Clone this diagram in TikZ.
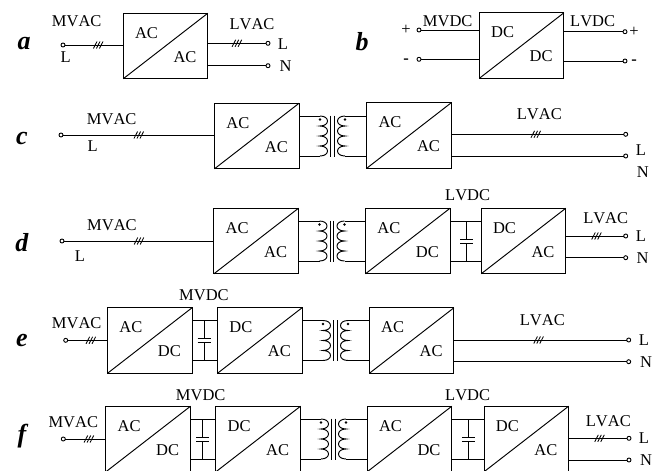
\documentclass[tikz,border=0pt]{standalone}
\usepackage{fontspec}
\setmainfont[Kerning=Off]{Liberation Serif}
\tikzset{
    wire/.style={line width=0.95pt},
    ticks/.pic={
        \foreach \k in {-3,0,3} \draw[line width=0.85pt] (\k-1.8,3.5) -- (\k+1.8,-3.5);
    },
    coil/.pic={
        \draw[wire] (0,-20) .. controls (10,-20) and (10,-10) .. (0,-10)
            .. controls (10,-10) and (10,0) .. (0,0)
            .. controls (10,0) and (10,10) .. (0,10)
            .. controls (10,10) and (10,20) .. (0,20);
    },
    xfmr/.pic={
        \pic at (-12.5,0) {coil};
        \pic[xscale=-1] at (12.5,0) {coil};
        \draw[wire] (-1.7,-20.5) -- (-1.7,20.5);
        \draw[wire] (1.7,-20.5) -- (1.7,20.5);
        \fill (-12.5,-16.5) circle (1.4);
        \fill (12.5,-16.5) circle (1.4);
        \coordinate (-lt) at (-12.5,-20);
        \coordinate (-lb) at (-12.5,20);
        \coordinate (-rt) at (12.5,-20);
        \coordinate (-rb) at (12.5,20);
    },
    dclink/.pic={
        \draw[wire] (0,-20) -- (0,-2);
        \draw[wire] (0,2) -- (0,20);
        \draw[wire] (-6.5,-2) -- (6.5,-2);
        \draw[wire] (-6.5,2) -- (6.5,2);
        \coordinate (-t) at (0,-20);
        \coordinate (-b) at (0,20);
    }
}
\begin{document}
\begin{tikzpicture}[
    x=1pt, y=-1pt,
    conv/.style={draw, line width=1pt, minimum width=84.5pt, minimum height=65.5pt, inner sep=0pt, outer sep=0pt},
    convtxt/.style={font=\fontsize{16.5}{18}\selectfont, inner sep=0pt},
    lbl/.style={font=\fontsize{16.5}{18}\selectfont, inner sep=0pt},
    rowlbl/.style={font=\fontsize{26}{27}\selectfont\bfseries\itshape, inner sep=0pt},
    term/.style={circle, draw, line width=0.9pt, fill=white, minimum size=4pt, inner sep=0pt, outer sep=0pt}
]
    \clip (0,0) rectangle (653,471);

    % converters
    \foreach \nm/\cx/\cy/\ta/\tb in {a/165.5/46/AC/AC, b/521.7/45.5/DC/DC,
        c1/256.8/136/AC/AC, c2/409/135.5/AC/AC,
        d1/256.2/241/AC/AC, d2/407.8/241/AC/DC, d3/523.5/241/DC/AC,
        e1/149.8/340.5/AC/DC, e2/259.8/340.5/DC/AC, e3/411.7/340.5/AC/AC,
        f1/148.2/439/AC/DC, f2/258.2/439/DC/AC, f3/409.5/439/AC/DC, f4/526.3/439/DC/AC} {
        \node[conv] (\nm) at (\cx,\cy) {};
        \draw[wire] (\nm.south west) -- (\nm.north east);
        \node[convtxt] (\nm ta) at (\cx-19,\cy-13) {\ta};
        \node[convtxt] (\nm tb) at (\cx+19.5,\cy+11) {\tb};
    }

    % terminals
    \foreach \nm/\cx/\cy in {ain/63/45, aol/268/43.3, aon/268/65.7,
        bip/419/30, bin/419/59.3, bop/625/31.7, bon/625/61,
        cin/61/135, col/625.7/134.3, con/625.7/156,
        din/62/241, dol/625.7/236, don/625.7/257.7,
        ein/65.7/340.3, eol/628.7/340, eon/628.7/361.7,
        fin/63.3/439, fol/629/438.3, fon/629/460} {
        \node[term] (\nm) at (\cx,\cy) {};
    }

    % wires on the input side
    \draw[wire] (ain) -- pic[pos=0.57] {ticks} (ain -| a.west);
    \draw[wire] (cin) -- pic[pos=0.5] {ticks} (cin -| c1.west);
    \draw[wire] (din) -- pic[pos=0.5] {ticks} (din -| d1.west);
    \draw[wire] (ein) -- pic[pos=0.58] {ticks} (ein -| e1.west);
    \draw[wire] (fin) -- pic[pos=0.58] {ticks} (fin -| f1.west);
    \draw[wire] (bip) -- (bip -| b.west);
    \draw[wire] (bin) -- (bin -| b.west);

    % wires on the output side
    \draw[wire] (a.east |- aol) -- pic[pos=0.5] {ticks} (aol);
    \draw[wire] (c2.east |- col) -- pic[pos=0.49] {ticks} (col);
    \draw[wire] (d3.east |- dol) -- pic[pos=0.53] {ticks} (dol);
    \draw[wire] (e3.east |- eol) -- pic[pos=0.49] {ticks} (eol);
    \draw[wire] (f4.east |- fol) -- pic[pos=0.53] {ticks} (fol);
    \foreach \p/\q in {a/aon, b/bop, b/bon, c2/con, d3/don, e3/eon, f4/fon} {
        \draw[wire] (\p.east |- \q) -- (\q);
    }

    % transformers
    \pic (cx) at (332.5,136) {xfmr};
    \pic (dx) at (332,241) {xfmr};
    \pic (ex) at (335.5,340.5) {xfmr};
    \pic (fx) at (333.5,439) {xfmr};
    \foreach \p/\q/\s in {c1/c2/cx, d1/d2/dx, e2/e3/ex, f2/f3/fx} {
        \draw[wire] (\p.east |- \s-lt) -- (\s-lt);
        \draw[wire] (\p.east |- \s-lb) -- (\s-lb);
        \draw[wire] (\s-rt) -- (\q.west |- \s-rt);
        \draw[wire] (\s-rb) -- (\q.west |- \s-rb);
    }

    % dc links
    \pic (dc) at (466.7,241.5) {dclink};
    \pic (ec) at (204,340.5) {dclink};
    \pic (fc1) at (202.7,439) {dclink};
    \pic (fc2) at (468.3,439) {dclink};
    \foreach \p/\q/\s in {d2/d3/dc, e1/e2/ec, f1/f2/fc1, f3/f4/fc2} {
        \draw[wire] (\p.east |- \s-t) -- (\q.west |- \s-t);
        \draw[wire] (\p.east |- \s-b) -- (\q.west |- \s-b);
    }

    % labels
    \foreach \nm/\cx/\cy/\txt in {amv/76.7/21/MVAC, al/65.7/57/L, alv/252/24/LVAC, aol/283/44/L, aon/285.7/65.7/N,
        bmv/447.7/20.7/MVDC, blv/592.7/21/LVDC, bp/406/30/+, bop/634/32/+,
        cmv/111.7/119/MVAC, cl/92.7/146/L, clv/539.3/114.3/LVAC, col/641/150/L, con/642.7/171.7/N,
        dmv/112/225/MVAC, dl/80/256/L, ddc/467.7/195/LVDC, dlv/605.7/218.3/LVAC, dol/641/236/L, don/642.5/257.7/N,
        emv/76.7/323.3/MVAC, edc/204/295/MVDC, elv/542.3/320/LVAC, eol/644/340/L, eon/646/361.7/N,
        fmv/73.3/421.7/MVAC, fdc/200.7/395/MVDC, fld/467.7/395/LVDC, flv/608.3/421/LVAC, fol/644/438/L, fon/646/460/N} {
        \node[lbl] (\nm t) at (\cx,\cy) {\txt};
    }
    \node[lbl] (bnt) at (406,61) {\textbf{-}};
    \node[lbl] (bont) at (634,62) {\textbf{-}};

    % row letters
    \foreach \nm/\cx/\cy in {a/24/44, b/362/42, c/22/138, d/22/243, e/22/340, f/22/436} {
        \node[rowlbl] (row\nm) at (\cx,\cy) {\nm};
    }
\end{tikzpicture}
\end{document}
